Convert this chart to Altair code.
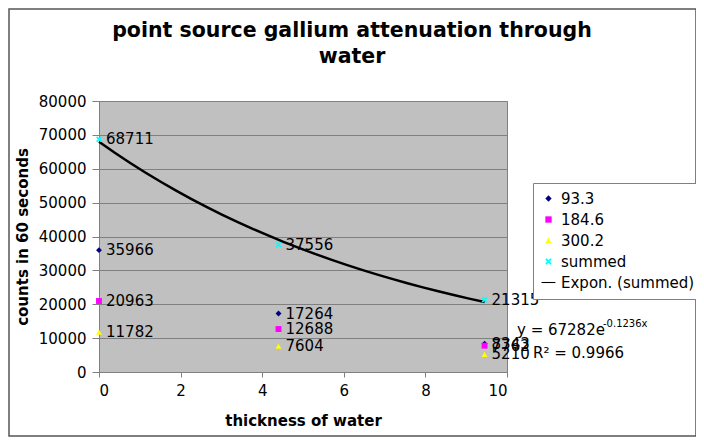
import altair as alt
import pandas as pd

# ---- data ----
thickness = [0, 4.4, 9.45]
series_names = ["93.3", "184.6", "300.2", "summed"]
counts_93 = [35966, 17264, 8343]
counts_184 = [20963, 12688, 7762]
counts_300 = [11782, 7604, 5210]
counts_sum = [68711, 37556, 21315]
trend_name = "Expon. (summed)"
equation_text = "y = 67282e"
exponent_text = "-0.1236x"
r2_text = "R² = 0.9966"
title_line1 = "point source gallium attenuation through"
title_line2 = "water"
x_ticks = [0, 2, 4, 6, 8, 10]
y_ticks = [0, 10000, 20000, 30000, 40000, 50000, 60000, 70000, 80000]

rows = []
for name, vals in zip(series_names, [counts_93, counts_184, counts_300, counts_sum]):
    for t, v in zip(thickness, vals):
        rows.append({"thickness": t, "counts": v, "series": name, "label": str(v)})
df = pd.DataFrame(rows)

FONT = "DejaVu Sans"
domain = series_names + [trend_name]
colors = ["#000080", "#FF00FF", "#FFFF00", "#00FFFF", "#000000"]
x_path = "M-1,-0.6L-0.6,-1L0,-0.4L0.6,-1L1,-0.6L0.4,0L1,0.6L0.6,1L0,0.4L-0.6,1L-1,0.6L-0.4,0Z"
line_path = "M-2.2,-0.17L2.2,-0.17L2.2,0.17L-2.2,0.17Z"
shapes = ["diamond", "square", "triangle-up", x_path, line_path]

x_enc = alt.X(
    "thickness:Q",
    scale=alt.Scale(domain=[0, 10], nice=False),
    axis=alt.Axis(values=x_ticks, title="thickness of water", grid=False,
                  tickSize=5, labelPadding=6, titlePadding=15,
                  domainColor="#808080", tickColor="#808080"),
)
y_enc = alt.Y(
    "counts:Q",
    scale=alt.Scale(domain=[0, 80000], nice=False),
    axis=alt.Axis(values=y_ticks, format="d", title="counts in 60 seconds", grid=True,
                  gridColor="#808080", gridOpacity=1, tickSize=7, labelPadding=6,
                  titlePadding=8, domainColor="#808080", tickColor="#808080"),
)

legend = alt.Legend(
    title=None, orient="none", legendX=434, legendY=82,
    padding=8, rowPadding=5, symbolSize=40, labelFontSize=15, labelFont=FONT,
    labelColor="black", strokeColor="#808080", fillColor="white",
    symbolStrokeWidth=0, labelOffset=5,
)
color = alt.Color("series:N", scale=alt.Scale(domain=domain, range=colors), legend=legend)
shape = alt.Shape("series:N", scale=alt.Scale(domain=domain, range=shapes), legend=legend)

points = alt.Chart(df).mark_point(filled=True, size=35, opacity=1).encode(
    x=x_enc, y=y_enc, color=color, shape=shape
)

labels = alt.Chart(df).mark_text(
    align="left", baseline="middle", dx=7, fontSize=15, font=FONT, color="black"
).encode(x=x_enc, y=y_enc, text="label:N")

trend = (
    alt.Chart(df)
    .transform_filter(alt.datum.series == "summed")
    .transform_regression("thickness", "counts", method="exp")
    .transform_calculate(series=f"'{trend_name}'")
    .mark_line(strokeWidth=2.5)
    .encode(x=x_enc, y=y_enc, color=color)
)

def free_text(txt, x, y, size, weight="normal", align="left", baseline="alphabetic"):
    return alt.Chart(pd.DataFrame({"t": [txt]})).mark_text(
        align=align, baseline=baseline, fontSize=size, font=FONT,
        fontWeight=weight, color="black"
    ).encode(x=alt.value(x), y=alt.value(y), text="t:N")

eq = free_text(equation_text, 418, 234, 15)
ex = free_text(exponent_text, 504, 226, 10)
r2 = free_text(r2_text, 434, 257, 15)
t1 = free_text(title_line1, 253, -70, 20.5, "bold", "center", "middle")
t2 = free_text(title_line2, 253, -44, 20.5, "bold", "center", "middle")

frame = alt.Chart(pd.DataFrame({"a": [0]})).mark_rect(
    fill=None, stroke="#555555", strokeWidth=1.5, clip=False
).encode(x=alt.value(-90), x2=alt.value(597), y=alt.value(-92), y2=alt.value(335))

chart = (
    alt.layer(frame, trend, points, labels, eq, ex, r2, t1, t2)
    .properties(
        width=408,
        height=271,
        autosize=alt.AutoSizeParams(type="none"),
        padding={"left": 91, "top": 93, "right": 189, "bottom": 65},
    )
    .configure(background="white", font=FONT)
    .configure_view(fill="#C0C0C0", stroke="#808080", strokeWidth=1)
    .configure_axis(labelFontSize=15, labelFont=FONT, labelColor="black",
                    titleFontSize=15, titleFont=FONT, titleFontWeight="bold",
                    titleColor="black")
)

chart.save("out.html", embed_options={"renderer": "svg", "actions": False})
